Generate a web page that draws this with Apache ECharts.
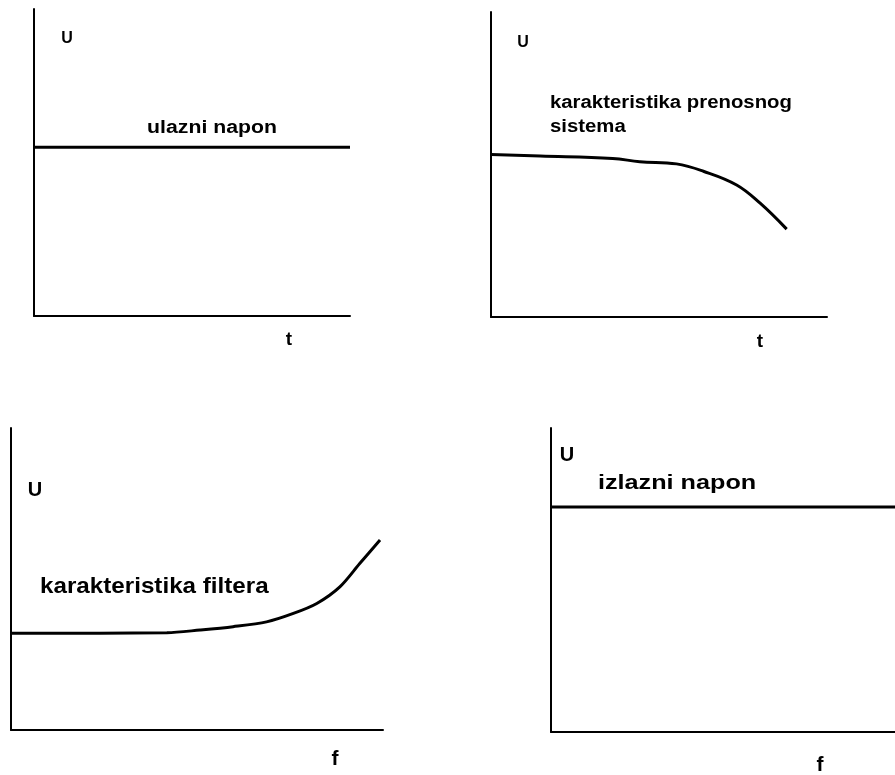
<!DOCTYPE html>
<html>
<head>
<meta charset="utf-8">
<script src="https://cdn.jsdelivr.net/npm/echarts@6/dist/echarts.min.js"></script>
<style>
  html, body { margin: 0; padding: 0; background: #fff; }
  #chart { width: 895px; height: 775px; }
</style>
</head>
<body>
<div id="chart"></div>
<script>
// Ulazni napon: constant input voltage over time
const inputT = [0, 10];
const inputU = [5.5, 5.5];

// Karakteristika prenosnog sistema: flat, then falling off
const systemT = [0, 1.46, 3.62, 4.43, 5.52, 6.32, 7.31, 8.01, 8.80];
const systemU = [5.33, 5.28, 5.20, 5.09, 5.02, 4.78, 4.33, 3.73, 2.88];

// Karakteristika filtera: flat, then rising to compensate
const filterF = [0, 4.19, 5.08, 5.97, 6.87, 7.59, 8.22, 8.84, 9.38, 9.92];
const filterU = [3.20, 3.22, 3.31, 3.42, 3.58, 3.86, 4.19, 4.74, 5.52, 6.29];

// Izlazni napon: constant output voltage over frequency
const outputF = [0, 10];
const outputU = [7.4, 7.4];

const pairs = (xs, ys) => xs.map((x, i) => [x, ys[i]]);

const grids = [
  { left: 34, top: 9, width: 316, height: 307 },
  { left: 491, top: 12, width: 336, height: 305 },
  { left: 11, top: 428, width: 372, height: 302 },
  { left: 551, top: 428, width: 344, height: 304 }
];

const axisBase = {
  type: 'value', min: 0, max: 10,
  axisLine: { show: true, onZero: false, lineStyle: { color: '#000', width: 2 } },
  axisTick: { show: false },
  axisLabel: { show: false },
  splitLine: { show: false }
};

const lineSeries = (idx, data, smooth) => ({
  type: 'line',
  xAxisIndex: idx, yAxisIndex: idx,
  data: data,
  showSymbol: false,
  smooth: smooth,
  lineStyle: { color: '#000', width: 3, cap: 'butt' },
  silent: true,
  animation: false
});

// Bold, slightly wide lettering for the annotations
const FONT = '"Liberation Sans", Arial, sans-serif';
const label = (text, x, y, size, align, stretch) => ({
  type: 'text', x: x, y: y, silent: true,
  scaleX: stretch || 1,
  style: {
    text: text, fill: '#000',
    font: 'bold ' + size + 'px ' + FONT,
    textAlign: align || 'center', textVerticalAlign: 'middle'
  }
});

const option = {
  backgroundColor: '#fff',
  animation: false,
  grid: grids,
  xAxis: grids.map((g, i) => Object.assign({ gridIndex: i }, axisBase)),
  yAxis: grids.map((g, i) => Object.assign({ gridIndex: i }, axisBase)),
  series: [
    lineSeries(0, pairs(inputT, inputU), false),
    lineSeries(1, pairs(systemT, systemU), 0.4),
    lineSeries(2, pairs(filterF, filterU), 0.3),
    lineSeries(3, pairs(outputF, outputU), false)
  ],
  graphic: [
    label('U', 67, 39, 16),
    label('ulazni napon', 212, 128, 18, 'center', 1.18),
    label('t', 289, 340, 19),

    label('U', 523, 43, 16),
    label('karakteristika prenosnog', 550, 103, 18, 'left', 1.13),
    label('sistema', 550, 127, 18, 'left', 1.13),
    label('t', 760, 342, 19),

    label('U', 35, 490, 20),
    label('karakteristika filtera', 40, 587, 22, 'left', 1.1),
    label('f', 335, 759, 21),

    label('U', 567, 455, 20),
    label('izlazni napon', 598, 483, 20, 'left', 1.26),
    label('f', 820, 765, 21)
  ]
};

const chart = echarts.init(document.getElementById('chart'), null, { renderer: 'canvas' });
chart.setOption(option);
</script>
</body>
</html>
